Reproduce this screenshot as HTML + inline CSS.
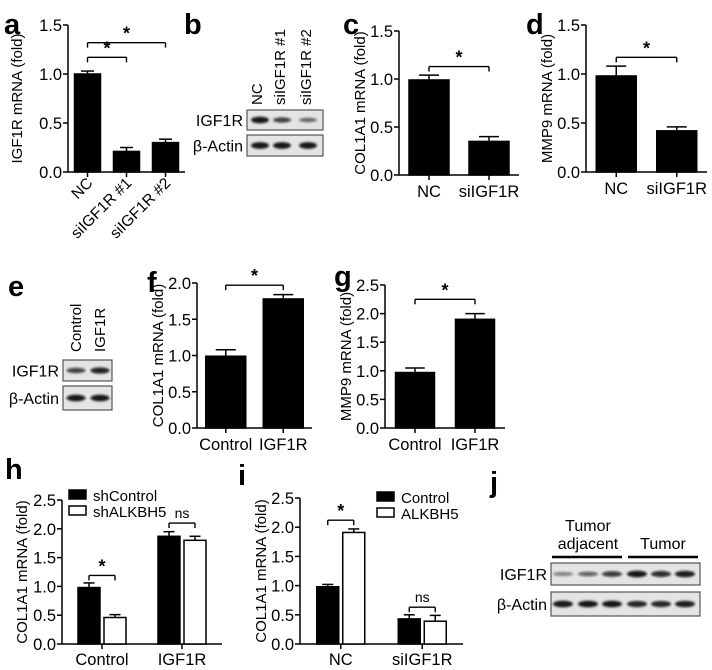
<!DOCTYPE html>
<html><head><meta charset="utf-8">
<style>
html,body{margin:0;padding:0;background:#fff;}
svg{display:block;font-family:"Liberation Sans",Arial,sans-serif;}
</style></head>
<body>
<svg id="fig" width="712" height="670" viewBox="0 0 712 670" xmlns="http://www.w3.org/2000/svg">
<defs><filter id="blur" x="-30%" y="-100%" width="160%" height="300%"><feGaussianBlur stdDeviation="1.0"/></filter></defs>
</svg>
<script>
// ---- Panel data ----
const aCats=["NC","siIGF1R #1","siIGF1R #2"];
const aVals=[1.0,0.21,0.30];
const aErrs=[0.03,0.04,0.035];
const cCats=["NC","siIGF1R"];
const cVals=[0.99,0.35];
const cErrs=[0.05,0.05];
const dCats=["NC","siIGF1R"];
const dVals=[0.98,0.42];
const dErrs=[0.10,0.04];
const fCats=["Control","IGF1R"];
const fVals=[0.99,1.78];
const fErrs=[0.09,0.06];
const gCats=["Control","IGF1R"];
const gVals=[0.97,1.90];
const gErrs=[0.08,0.10];
const hCats=["Control","IGF1R"];
const hSeries=["shControl","shALKBH5"];
const hBlack=[0.98,1.87];
const hBlackErr=[0.08,0.08];
const hWhite=[0.46,1.80];
const hWhiteErr=[0.05,0.07];
const iCats=["NC","siIGF1R"];
const iSeries=["Control","ALKBH5"];
const iBlack=[0.98,0.43];
const iBlackErr=[0.04,0.07];
const iWhite=[1.91,0.39];
const iWhiteErr=[0.06,0.10];
const ticks15=["0.0","0.5","1.0","1.5"];
const ticks20=["0.0","0.5","1.0","1.5","2.0"];
const ticks25=["0.0","0.5","1.0","1.5","2.0","2.5"];
const bLanes=["NC","siIGF1R #1","siIGF1R #2"];
const bIGF=[1.0,0.7,0.45];
const bAct=[1,1,1];
const eLanes=["Control","IGF1R"];
const eIGF=[0.7,0.9];
const eAct=[1,1];
const jIGF=[0.3,0.5,0.75,1.0,0.85,0.95];
const jAct=[1,1,1,0.9,0.9,0.95];

const svg=document.getElementById('fig');
const NS="http://www.w3.org/2000/svg";
function el(tag,attrs,parent){const e=document.createElementNS(NS,tag);for(const k in attrs)e.setAttribute(k,attrs[k]);(parent||svg).appendChild(e);return e;}
function txt(s,attrs,parent){const e=el('text',attrs,parent);e.textContent=s;return e;}
function line(x1,y1,x2,y2,p,w){return el('line',{x1,y1,x2,y2,stroke:'#000','stroke-width':w||1.5},p);}

function letter(ch,x,y){
  const t=txt(ch,{x,y,'font-size':29,'font-weight':'bold'});
  
  
}

function axes(g,o){
  const ys=v=>o.y0-(v/o.max)*(o.y0-o.yTop);
  line(o.x0,o.yTop,o.x0,o.y0,g);
  line(o.x0,o.y0,o.x1,o.y0,g);
  o.ticks.forEach((t,i)=>{
    const v=parseFloat(t);const y=ys(v);
    line(o.x0-5,y,o.x0,y,g);
    const tl=txt(t,{x:o.x0-6,y:y+6,'font-size':16.5,'text-anchor':'end'},g);
    
    
  });
  const yt=txt(o.title,{x:0,y:0,'font-size':15,'text-anchor':'middle',transform:`translate(${o.tx},${(o.yTop+o.y0)/2}) rotate(-90)`},g);
  
  
  return ys;
}
function xc(o,i,n){return o.x0+(o.x1-o.x0)*(i+0.5)/n;}
function bar(g,x,w,v,e,ys,o,fill,name){
  const r=el('rect',{x:x-w/2,y:ys(v),width:w,height:o.y0-ys(v),fill:fill,stroke:'#000','stroke-width':1.5},g);
  
  
  const top=ys(v+e);
  line(x,ys(v),x,top,g);
  line(x-w/4,top,x+w/4,top,g);
}
function bracket(g,xa,xb,y,label,fs){
  line(xa,y,xb,y,g,1.4);line(xa,y,xa,y+5,g,1.4);line(xb,y,xb,y+5,g,1.4);
  const s=txt(label,{x:(xa+xb)/2,y:label==='*'?y-3:y-5,'font-size':fs||18,'font-weight':label==='*'?'bold':'normal','text-anchor':'middle'},g);
  
  
}

function simple(name,o,cats,vals,errs,brackets,rotLabels){
  const g=el('g',{});
  
  
  const ys=axes(g,o);
  const n=cats.length;
  cats.forEach((c,i)=>{
    const x=xc(o,i,n);
    bar(g,x,o.bw,vals[i],errs[i],ys,o,'#000','bar-'+c.replace(/\W+/g,'-').toLowerCase());
    line(x,o.y0,x,o.y0+5,g);
    let t;
    if(rotLabels){t=txt(c,{x:0,y:0,'font-size':15.5,'text-anchor':'end',transform:`translate(${x+6},${o.y0+12}) rotate(-45)`},g);}
    else t=txt(c,{x:x,y:o.y0+22,'font-size':16.5,'text-anchor':'middle'},g);
    
    
  });
  brackets.forEach(b=>{
    const ya=ys(b.v);
    bracket(g,xc(o,b.a,n),xc(o,b.b,n),ya,b.l);
  });
}

function grouped(name,o,cats,black,bErr,white,wErr,series,legend,brackets){
  const g=el('g',{});
  
  
  const ys=axes(g,o);
  const n=cats.length;const off=o.bw/2+2;
  cats.forEach((c,i)=>{
    const x=xc(o,i,n);
    bar(g,x-off,o.bw,black[i],bErr[i],ys,o,'#000','bar-'+series[0].toLowerCase()+'-'+c.toLowerCase());
    bar(g,x+off,o.bw,white[i],wErr[i],ys,o,'#fff','bar-'+series[1].toLowerCase()+'-'+c.toLowerCase());
    line(x,o.y0,x,o.y0+5,g);
    const t=txt(c,{x:x,y:o.y0+21,'font-size':16.5,'text-anchor':'middle'},g);
    
    
  });
  series.forEach((s,k)=>{
    const lg=el('g',{},g);
    
    
    el('rect',{x:legend.x,y:legend.y+k*16,width:17,height:9,fill:k?'#fff':'#000',stroke:'#000','stroke-width':1.5},lg);
    txt(s,{x:legend.x+24,y:legend.y+k*16+11,'font-size':15},lg);
  });
  brackets.forEach(b=>{
    const x=xc(o,b.i,n);
    bracket(g,x-off,x+off,ys(b.v),b.l,b.l==='ns'?14:18);
  });
}

function blot(name,x,w,rows,lanes,laneX,bands,labels){
  const g=el('g',{});
  
  
  rows.forEach((r,k)=>{
    const rg=el('g',{},g);
    
    
    el('rect',{x:x,y:r.y,width:w,height:r.h,fill:'#e4e4e4',stroke:'#555','stroke-width':1.2},rg);
    bands[k].forEach((v,i)=>{
      el('ellipse',{cx:laneX[i],cy:r.y+r.h/2,rx:r.bw/2,ry:1.2+2.2*v,fill:'#111','fill-opacity':0.3+0.65*v,filter:'url(#blur)'},rg);
    });
    txt(labels[k],{x:x-4,y:r.y+r.h/2+6,'font-size':16,'text-anchor':'end'},rg);
  });
}

// a
letter('a',4,34);
simple('panel-a-chart',{x0:68,x1:185,y0:172,yTop:25,max:1.5,ticks:ticks15,bw:26,tx:22,title:'IGF1R mRNA (fold)'},aCats,aVals,aErrs,
 [{a:0,b:1,v:1.17,l:'*'},{a:0,b:2,v:1.32,l:'*'}],true);
// b
letter('b',184,34);
blot('panel-b-blot',247,76,[{y:110,h:20,bw:18},{y:135,h:21,bw:18}],bLanes,[260,282,308],[bIGF,bAct],['IGF1R','β-Actin']);
bLanes.forEach((l,i)=>{const t=txt(l,{x:0,y:0,'font-size':15,transform:`translate(${[262,285,311][i]},105) rotate(-90)`});
 });
// c
letter('c',343,34);
simple('panel-c-chart',{x0:399,x1:519,y0:175,yTop:31,max:1.5,ticks:ticks15,bw:40,tx:365,title:'COL1A1 mRNA (fold)'},cCats,cVals,cErrs,[{a:0,b:1,v:1.13,l:'*'}],false);
// d
letter('d',526,34);
simple('panel-d-chart',{x0:586,x1:707,y0:172,yTop:25,max:1.5,ticks:ticks15,bw:40,tx:552,title:'MMP9 mRNA (fold)'},dCats,dVals,dErrs,[{a:0,b:1,v:1.17,l:'*'}],false);
// e
letter('e',8,296);
blot('panel-e-blot',63,49,[{y:360,h:21,bw:19},{y:386,h:24,bw:19}],eLanes,[76,100],[eIGF,eAct],['IGF1R','β-Actin']);
eLanes.forEach((l,i)=>{const t=txt(l,{x:0,y:0,'font-size':15,transform:`translate(${[81,105][i]},352) rotate(-90)`});
 });
// f
letter('f',147,292);
simple('panel-f-chart',{x0:197,x1:312,y0:428,yTop:283,max:2.0,ticks:ticks20,bw:40,tx:163,title:'COL1A1 mRNA (fold)'},fCats,fVals,fErrs,[{a:0,b:1,v:1.97,l:'*'}],false);
// g
letter('g',334,286);
simple('panel-g-chart',{x0:385,x1:505,y0:428,yTop:285,max:2.5,ticks:ticks25,bw:39,tx:351,title:'MMP9 mRNA (fold)'},gCats,gVals,gErrs,[{a:0,b:1,v:2.25,l:'*'}],false);
// h
letter('h',5,479);
grouped('panel-h-chart',{x0:62,x1:222,y0:644,yTop:500,max:2.5,ticks:ticks25,bw:22,tx:27,title:'COL1A1 mRNA (fold)'},hCats,hBlack,hBlackErr,hWhite,hWhiteErr,hSeries,{x:69,y:490},
 [{i:0,v:1.19,l:'*'},{i:1,v:2.1,l:'ns'}]);
// i
letter('i',238,485);
grouped('panel-i-chart',{x0:300,x1:463,y0:644,yTop:498,max:2.5,ticks:ticks25,bw:22,tx:266,title:'COL1A1 mRNA (fold)'},iCats,iBlack,iBlackErr,iWhite,iWhiteErr,iSeries,{x:377,y:492},
 [{i:0,v:2.12,l:'*'},{i:1,v:0.63,l:'ns'}]);
// j
letter('j',490,492);
blot('panel-j-blot',551,149,[{y:563,h:22,bw:20},{y:592,h:24,bw:20}],null,[563,588,612,637,661,685],[jIGF,jAct],['IGF1R','β-Actin']);
(function(){
  const g=el('g',{});
  
  
  txt('Tumor',{x:588,y:531,'font-size':16,'text-anchor':'middle'},g);
  txt('adjacent',{x:588,y:549,'font-size':16,'text-anchor':'middle'},g);
  txt('Tumor',{x:663,y:549,'font-size':16,'text-anchor':'middle'},g);
  line(552,557,622,557,g,2.5);line(628,557,698,557,g,2.5);
})();
</script>
</body></html>
